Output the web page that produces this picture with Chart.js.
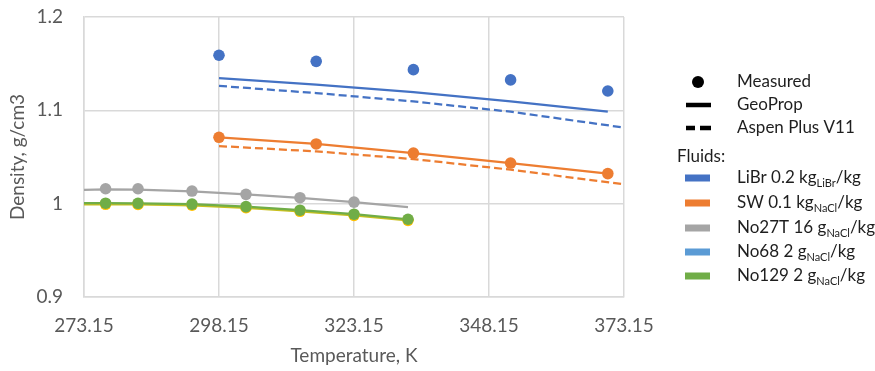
<!DOCTYPE html>
<html><head><meta charset="utf-8">
<script src="https://cdn.jsdelivr.net/npm/chart.js@4/dist/chart.umd.min.js"></script>
<style>html,body{margin:0;padding:0;background:#fff}#wrap{width:875px;height:371px}</style>
</head><body><div id="wrap"><canvas id="c" width="875" height="371"></canvas></div>
<script>
// ---- data ----
const xTickValues = [273.15, 298.15, 323.15, 348.15, 373.15];
const xTickLabels = ['273.15', '298.15', '323.15', '348.15', '373.15'];
const yTickValues = [0.9, 1.0, 1.1, 1.2];
const yTickLabels = ['0.9', '1', '1.1', '1.2'];

const librT = [298.15, 316.15, 334.15, 352.15, 370.15];
const librMeasured = [1.159, 1.1525, 1.1436, 1.1326, 1.1207];
const librGeoProp = [1.1345, 1.1275, 1.1195, 1.1095, 1.0985];
const librAspenT = [298.15, 316.15, 334.15, 352.15, 373.15];
const librAspen = [1.1262, 1.1185, 1.1095, 1.0985, 1.0815];

const swT = [298.15, 316.15, 334.15, 352.15, 370.15];
const swMeasured = [1.0711, 1.064, 1.0542, 1.0435, 1.0322];
const swGeoProp = [1.0711, 1.064, 1.0542, 1.0435, 1.0322];
const swAspenT = [298.15, 316.15, 334.15, 352.15, 373.15];
const swAspen = [1.0617, 1.056, 1.0478, 1.0364, 1.0207];

const no27T_T = [277.15, 283.15, 293.15, 303.15, 313.15, 323.15];
const no27T_Measured = [1.016, 1.016, 1.0135, 1.010, 1.0064, 1.0017];
const no27T_LineT = [273.15, 277.15, 283.15, 293.15, 303.15, 313.15, 323.15, 333.15];
const no27T_GeoProp = [1.0148, 1.0152, 1.0150, 1.0133, 1.0100, 1.0062, 1.0016, 0.9964];

const no68T = [277.15, 283.15, 293.15, 303.15, 313.15, 323.15, 333.15];
const no68Measured = [0.9993, 0.9992, 0.9983, 0.9956, 0.9918, 0.9875, 0.9821];
const no68LineT = [273.15, 277.15, 283.15, 293.15, 303.15, 313.15, 323.15, 333.15];
const no68GeoProp = [0.9993, 0.9993, 0.9992, 0.9983, 0.9956, 0.9918, 0.9875, 0.9821];

const no129T = [277.15, 283.15, 293.15, 303.15, 313.15, 323.15, 333.15];
const no129Measured = [1.0005, 1.0004, 0.9995, 0.9968, 0.9930, 0.9887, 0.9833];
const no129LineT = [273.15, 277.15, 283.15, 293.15, 303.15, 313.15, 323.15, 333.15];
const no129GeoProp = [1.0005, 1.0005, 1.0004, 0.9995, 0.9968, 0.9930, 0.9887, 0.9833];

const legendSymbols = ['Measured', 'GeoProp', 'Aspen Plus V11'];
const legendFluids = [
  ['LiBr 0.2 kg', 'LiBr', '/kg'],
  ['SW 0.1 kg', 'NaCl', '/kg'],
  ['No27T 16 g', 'NaCl', '/kg'],
  ['No68 2 g', 'NaCl', '/kg'],
  ['No129 2 g', 'NaCl', '/kg']
];
const legendColors = ['#4472C4', '#ED7D31', '#A5A5A5', '#5B9BD5', '#70AD47'];

// ---- helpers ----
const pts = (xs, ys) => xs.map((x, i) => ({x: x, y: ys[i]}));
const BLUE = '#4472C4', ORANGE = '#ED7D31', GRAY = '#A5A5A5', YELLOW = '#FFC000', GREEN = '#70AD47';
const FONT = 'Lato, "Open Sans", sans-serif';
function marks(label, xs, ys, color) {
  return {label, data: pts(xs, ys), showLine: false, pointRadius: 5.8, pointHoverRadius: 5.8,
    pointBackgroundColor: color, pointBorderColor: color, pointBorderWidth: 0, borderColor: color, backgroundColor: color};
}
function line(label, xs, ys, color, dash) {
  return {label, data: pts(xs, ys), showLine: true, pointRadius: 0, borderWidth: 2.25,
    borderColor: color, backgroundColor: color, borderDash: dash || [], tension: 0, fill: false};
}

const datasets = [
  marks('LiBr measured', librT, librMeasured, BLUE),
  marks('SW measured', swT, swMeasured, ORANGE),
  marks('No27T measured', no27T_T, no27T_Measured, GRAY),
  marks('No129 measured', no129T, no129Measured, GREEN),
  marks('No68 measured', no68T, no68Measured, YELLOW),
  line('No129 GeoProp', no129LineT, no129GeoProp, GREEN),
  line('No68 GeoProp', no68LineT, no68GeoProp, '#C8C020'),
  line('LiBr GeoProp', librT, librGeoProp, BLUE),
  line('LiBr Aspen', librAspenT, librAspen, BLUE, [8, 4]),
  line('SW GeoProp', swT, swGeoProp, ORANGE),
  line('SW Aspen', swAspenT, swAspen, ORANGE, [8, 4]),
  line('No27T GeoProp', no27T_LineT, no27T_GeoProp, GRAY)
];

const legendPlugin = {
  id: 'customLegend',
  afterDraw(chart) {
    const ctx = chart.ctx;
    ctx.save();
    const tx = 737;
    const rowY = [82, 105, 128, 157, 178, 203, 228, 252, 276];
    const main = '17px ' + FONT, sub = '11px ' + FONT;
    ctx.textBaseline = 'middle';
    ctx.textAlign = 'left';
    ctx.beginPath(); ctx.arc(698, rowY[0], 6, 0, Math.PI * 2); ctx.fillStyle = '#000'; ctx.fill();
    ctx.strokeStyle = '#000'; ctx.lineWidth = 4.5;
    ctx.beginPath(); ctx.moveTo(686, rowY[1]); ctx.lineTo(711, rowY[1]); ctx.stroke();
    ctx.beginPath(); ctx.moveTo(686, rowY[2]); ctx.lineTo(695, rowY[2]); ctx.moveTo(700, rowY[2]); ctx.lineTo(711, rowY[2]); ctx.stroke();
    ctx.fillStyle = '#1e1e1e'; ctx.font = main;
    legendSymbols.forEach((t, i) => ctx.fillText(t, tx, rowY[i]));
    ctx.fillText('Fluids:', 677, rowY[3]);
    legendFluids.forEach((f, i) => {
      const y = rowY[4 + i];
      ctx.fillStyle = legendColors[i];
      ctx.fillRect(685, y - 3.5, 25, 7);
      ctx.fillStyle = '#1e1e1e';
      ctx.font = main;
      ctx.fillText(f[0], tx, y);
      let x = tx + ctx.measureText(f[0]).width;
      ctx.font = sub;
      ctx.fillText(f[1], x, y + 5);
      x += ctx.measureText(f[1]).width;
      ctx.font = main;
      ctx.fillText(f[2], x, y);
    });
    ctx.restore();
  }
};

const gridColor = '#D9D9D9';
new Chart(document.getElementById('c'), {
  type: 'line',
  data: {datasets},
  plugins: [legendPlugin],
  options: {
    responsive: false, animation: false, devicePixelRatio: 1,
    layout: {autoPadding: false, padding: {left: 0, right: 251, top: 17, bottom: 0}},
    plugins: {legend: {display: false}, tooltip: {enabled: false}},
    scales: {
      x: {
        type: 'linear', min: 273.15, max: 373.15,
        afterBuildTicks: s => { s.ticks = xTickValues.map(v => ({value: v})); },
        afterFit: s => { s.height = 74; s.paddingTop = 0; s.paddingBottom = 0; },
        grid: {color: gridColor, lineWidth: 1.5, drawTicks: false},
        border: {color: gridColor, width: 1.5},
        ticks: {callback: (v, i) => xTickLabels[i], color: '#595959', font: {family: FONT, size: 19}, padding: 17, maxRotation: 0, autoSkip: false},
        title: {display: true, text: 'Temperature, K', color: '#595959', font: {family: FONT, size: 19}, padding: {top: 4, bottom: 4}}
      },
      y: {
        type: 'linear', min: 0.9, max: 1.2,
        afterBuildTicks: s => { s.ticks = yTickValues.map(v => ({value: v})); },
        afterFit: s => { s.width = 84; s.paddingTop = 0; s.paddingBottom = 0; },
        grid: {color: gridColor, lineWidth: 1.5, drawTicks: false},
        border: {color: gridColor, width: 1.5},
        ticks: {callback: (v, i) => yTickLabels[i], color: '#595959', font: {family: FONT, size: 19}, padding: 21},
        title: {display: true, text: 'Density, g/cm3', color: '#595959', font: {family: FONT, size: 19}, padding: {top: 6, bottom: 4}}
      }
    }
  }
});
</script></body></html>
